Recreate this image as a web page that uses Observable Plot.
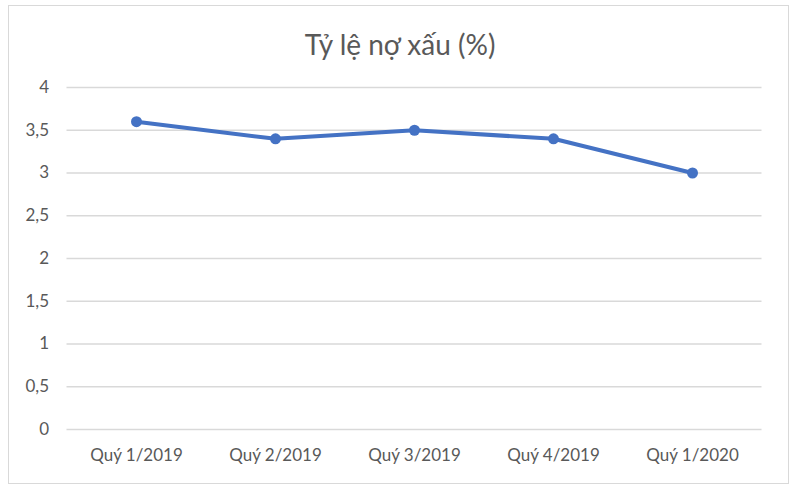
<!DOCTYPE html>
<html>
<head>
<meta charset="utf-8">
<script src="https://cdn.jsdelivr.net/npm/d3@7"></script>
<script src="https://cdn.jsdelivr.net/npm/@observablehq/plot@0.6"></script>
<style>
  html, body { margin: 0; padding: 0; background: #fff; }
  #wrap { position: relative; width: 800px; height: 492px; overflow: hidden; font-family: Lato, "Noto Sans", sans-serif; }
  #frame { position: absolute; left: 8px; top: 5px; width: 781px; height: 479px; border: 1px solid #d9d9d9; box-sizing: border-box; pointer-events: none; }
  #title { height: 65px; box-sizing: border-box; padding-top: 28px; text-align: center; font-size: 28px; line-height: 32px; color: #595959; }
  #chart svg { display: block; }
</style>
</head>
<body>
<div id="wrap">
  <div id="frame"></div>
  <div id="title">Tỷ lệ nợ xấu (%)</div>
  <div id="chart"></div>
</div>
<script>
const quarters = ["Quý 1/2019", "Quý 2/2019", "Quý 3/2019", "Quý 4/2019", "Quý 1/2020"];
const ratios = [3.6, 3.4, 3.5, 3.4, 3.0];
const yTicks = [0, 0.5, 1, 1.5, 2, 2.5, 3, 3.5, 4];

const data = quarters.map((q, i) => ({quarter: q, value: ratios[i]}));
const fmt = d => String(d).replace(".", ",");

const chart = Plot.plot({
  width: 800,
  height: 427,
  marginTop: 22,
  marginBottom: 63,
  marginLeft: 66.5,
  marginRight: 38.5,
  style: {fontFamily: "Lato, 'Noto Sans', sans-serif", fontSize: "17px", color: "#595959", background: "transparent"},
  x: {type: "point", domain: quarters, padding: 0.5, label: null},
  y: {domain: [0, 4], label: null},
  marks: [
    Plot.gridY(yTicks, {stroke: "#d9d9d9", strokeOpacity: 1, strokeWidth: 1.3}),
    Plot.axisY(yTicks, {tickSize: 0, tickPadding: 18, tickFormat: fmt, label: null, fill: "#595959"}),
    Plot.axisX({tickSize: 0, tickPadding: 19, label: null, fill: "#595959"}),
    Plot.line(data, {x: "quarter", y: "value", stroke: "#4472c4", strokeWidth: 4, strokeLinejoin: "round", strokeLinecap: "round"}),
    Plot.dot(data, {x: "quarter", y: "value", r: 5.5, fill: "#4472c4", stroke: "none"})
  ]
});
document.getElementById("chart").appendChild(chart);
</script>
</body>
</html>
